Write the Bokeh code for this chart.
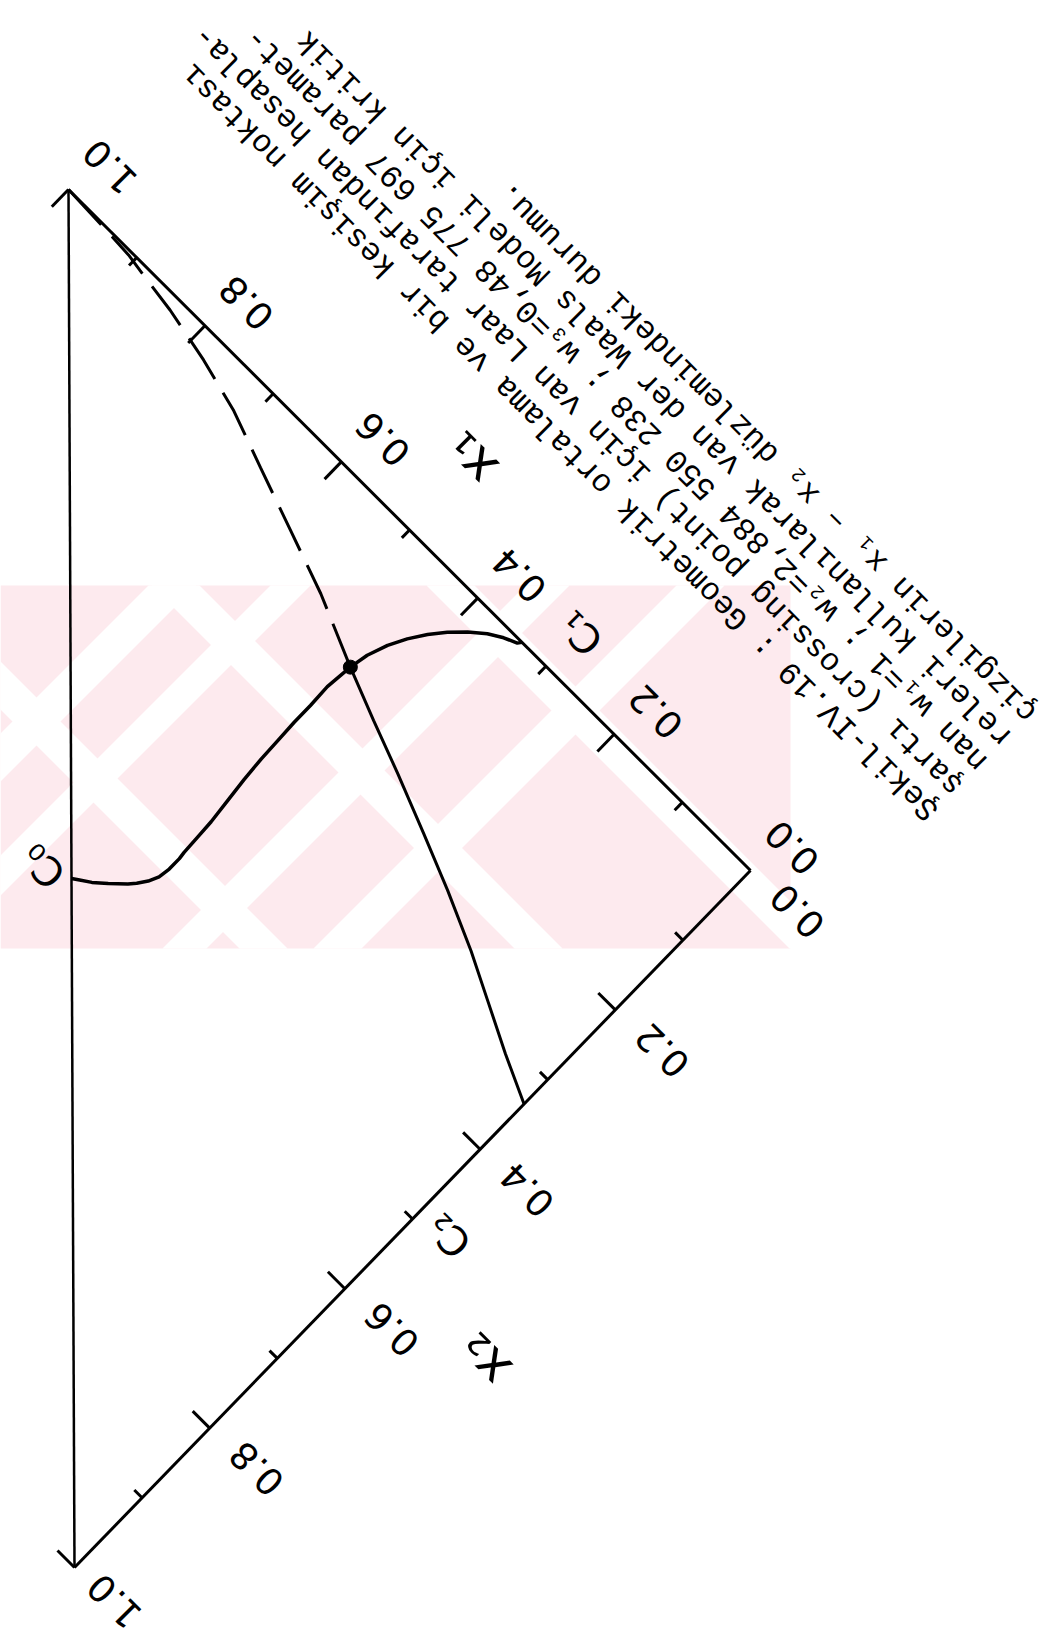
import numpy as np
from bokeh.plotting import figure
from bokeh.models import Range1d
from bokeh.core.properties import value
from bokeh.embed import file_html
from bokeh.resources import INLINE

W, H = 1050, 1637

# ---- data (mole fractions x1, x2) ----
# van der Waals critical line from C0 (x1 + x2 = 1 edge) to C1 (x1 axis)
crit_x1 = [0.500, 0.494, 0.482, 0.469, 0.454, 0.448, 0.441, 0.436, 0.434, 0.434,
           0.435, 0.436, 0.437, 0.440, 0.443, 0.445, 0.446, 0.447, 0.447, 0.448,
           0.445, 0.441, 0.433, 0.423, 0.411, 0.398, 0.383, 0.367, 0.352, 0.338,
           0.335]
crit_x2 = [0.500, 0.496, 0.488, 0.477, 0.463, 0.456, 0.446, 0.435, 0.422, 0.407,
           0.399, 0.378, 0.357, 0.329, 0.302, 0.275, 0.249, 0.224, 0.200, 0.174,
           0.143, 0.122, 0.100, 0.081, 0.063, 0.047, 0.032, 0.019, 0.010, 0.004,
           0.000]

# geometric-mean critical line: dashed branch from x1 = 1 down to the crossing point
gm_dash_x1 = [1.000, 0.947, 0.908, 0.888, 0.837, 0.776, 0.717, 0.656, 0.588, 0.520, 0.445]
gm_dash_x2 = [0.000, 0.002, 0.004, 0.007, 0.014, 0.026, 0.041, 0.063, 0.087, 0.111, 0.143]
# solid branch from the crossing point to C2 on the x2 axis
gm_solid_x1 = [0.445, 0.389, 0.333, 0.270, 0.211, 0.150, 0.102, 0.050, 0.000]
gm_solid_x2 = [0.143, 0.165, 0.186, 0.211, 0.235, 0.262, 0.286, 0.312, 0.335]

crossing_x1 = [0.445]
crossing_x2 = [0.143]

tick_values = [0.1, 0.2, 0.3, 0.4, 0.5, 0.6, 0.7, 0.8, 0.9, 1.0]
tick_labels = ["0.0", "0.2", "0.4", "0.6", "0.8", "1.0"]
label_values = [0.0, 0.2, 0.4, 0.6, 0.8, 1.0]

caption = [
    "Şekil-IV.19 : Geometrik ortalama ve bir kesişim noktası",
    "şartı (crossing point) için van Laar tarafından hesapla-",
    "nan w₁=1 ; w₂=2,884 550 238 ; w₃=0,48 775 697 paramet-",
    "releri kullanılarak van der Waals Modeli için kritik",
    "çizgilerin x₁ – x₂ düzlemindeki durumu.",
]

# ---- page geometry: the diagram sits turned on the page ----
ORIGIN = np.array([750.0, 870.0])   # x1 = x2 = 0 (page pixels, y down)
END_X1 = np.array([68.0, 189.0])    # x1 = 1
END_X2 = np.array([74.0, 1567.0])   # x2 = 1
ANG = 3 * np.pi / 4                 # text runs up-left, upside down

e1 = END_X1 - ORIGIN
e2 = END_X2 - ORIGIN
u1 = e1 / np.linalg.norm(e1)
u2 = e2 / np.linalg.norm(e2)


def page(a, b):
    a = np.asarray(a, float)
    b = np.asarray(b, float)
    return ORIGIN[0] + a * e1[0] + b * e2[0], ORIGIN[1] + a * e1[1] + b * e2[1]


def to_plot(px, py):
    return np.asarray(px, float), H - np.asarray(py, float)


def comp(a, b):
    return to_plot(*page(a, b))


p = figure(width=W, height=H, x_range=Range1d(0, W), y_range=Range1d(0, H),
           toolbar_location=None, output_backend="svg", min_border=0)
p.axis.visible = False
p.grid.visible = False
p.outline_line_color = None
p.background_fill_color = "white"
p.border_fill_color = "white"

# ---- faint stamp in the background ----
PINK = "#fdeaee"
y_top, y_bot, x_right = 585.0, 948.0, 790.0
bx, by = to_plot([0, x_right, x_right, 0], [y_top, y_top, y_bot, y_bot])
p.patch(bx, by, fill_color=PINK, line_color=None)
gaps_x = []
gaps_y = []
for c, hw in [(757.0, 24.0), (875.0, 20.0), (1132.0, 22.0), (1285.0, 24.0)]:   # up-right
    xs = [c - y_top - hw, c - y_top + hw, c - y_bot + hw, c - y_bot - hw]
    gx, gy = to_plot(xs, [y_top, y_top, y_bot, y_bot])
    gaps_x.append(list(gx)); gaps_y.append(list(gy))
for d, hw in [(-685.0, 24.0), (-410.0, 24.0), (-135.0, 24.0)]:                  # down-right
    xs = [d + y_top - hw, d + y_top + hw, d + y_bot + hw, d + y_bot - hw]
    gx, gy = to_plot(xs, [y_top, y_top, y_bot, y_bot])
    gaps_x.append(list(gx)); gaps_y.append(list(gy))
p.patches(gaps_x, gaps_y, fill_color="white", line_color=None)

# ---- triangle frame ----
LW = 3
fx, fy = comp([0, 1, 0, 0], [0, 0, 1, 0])
p.line(fx[:2], fy[:2], line_color="black", line_width=LW)
p.line(fx[1:3], fy[1:3], line_color="black", line_width=LW - 0.5)
p.line([fx[0], fx[2]], [fy[0], fy[2]], line_color="black", line_width=LW)

# ticks point into the triangle
tx, ty = [], []
for v in tick_values:
    L = 24.0 if round(v * 10) % 2 == 0 else 11.0
    sx, sy = page(v, 0)
    a, b = to_plot([sx, sx + L * u2[0]], [sy, sy + L * u2[1]])
    tx.append(list(a)); ty.append(list(b))
    sx, sy = page(0, v)
    a, b = to_plot([sx, sx + L * u1[0]], [sy, sy + L * u1[1]])
    tx.append(list(a)); ty.append(list(b))
p.multi_line(tx, ty, line_color="black", line_width=LW)

# tick labels
LBL_FONT = value("DejaVu Sans")
lx, ly = [], []
for v in label_values:
    sx, sy = page(v, 0)
    q = np.array([sx, sy]) - 45.0 * u2 - 14.0 * u1
    a, b = to_plot(q[0], q[1])
    lx.append(float(a)); ly.append(float(b))
for v in label_values:
    sx, sy = page(0, v)
    out = 52.0 if v == 1.0 else 62.0
    q = np.array([sx, sy]) - out * u1 - 4.0 * u2
    a, b = to_plot(q[0], q[1])
    lx.append(float(a)); ly.append(float(b))
p.text(lx, ly, text=tick_labels + tick_labels, angle=ANG, text_font=LBL_FONT,
       text_font_size="37px", text_align="center", text_baseline="middle",
       text_color="black")

# axis names and curve end labels, placed in composition coordinates
ax_names = ["x₁", "x₂"]
ax_x1 = [0.506, -0.155]
ax_x2 = [-0.096, 0.551]
nx, ny = comp(ax_x1, ax_x2)
p.text(list(nx), list(ny), text=ax_names, angle=ANG, text_font=LBL_FONT,
       text_font_size="52px", text_align="center", text_baseline="middle",
       text_color="black")

pt_names = ["C₀", "C₁", "C₂"]
pt_x1 = [0.530, 0.298, -0.039]
pt_x2 = [0.512, -0.049, 0.486]
nx, ny = comp(pt_x1, pt_x2)
p.text(list(nx), list(ny), text=pt_names, angle=ANG, text_font=LBL_FONT,
       text_font_size="40px", text_align="center", text_baseline="middle",
       text_color="black")

# ---- curves ----
cx, cy = comp(crit_x1, crit_x2)
p.line(cx, cy, line_color="black", line_width=3.5, line_join="round")
dx_, dy_ = comp(gm_dash_x1, gm_dash_x2)
p.line(dx_, dy_, line_color="black", line_width=3, line_dash="48 16")
sx_, sy_ = comp(gm_solid_x1, gm_solid_x2)
p.line(sx_, sy_, line_color="black", line_width=3)
kx, ky = comp(crossing_x1, crossing_x2)
p.scatter(kx, ky, size=14, marker="circle", fill_color="black", line_color="black")

# ---- caption, typed along the x1 axis direction ----
S0, T0, DT = -1236.0, 84.0, 34.8
cap_x, cap_y = [], []
for k in range(len(caption)):
    t = T0 + k * DT
    px = (-S0 + t) / np.sqrt(2)
    py = (-S0 - t) / np.sqrt(2)
    a, b = to_plot(px, py)
    cap_x.append(float(a)); cap_y.append(float(b))
p.text(cap_x, cap_y, text=caption, angle=ANG, text_font=value("Liberation Mono"),
       text_font_size="32px", text_align="left",
       text_baseline="middle", text_color="black")

open("out.html", "w").write(file_html(p, INLINE))
